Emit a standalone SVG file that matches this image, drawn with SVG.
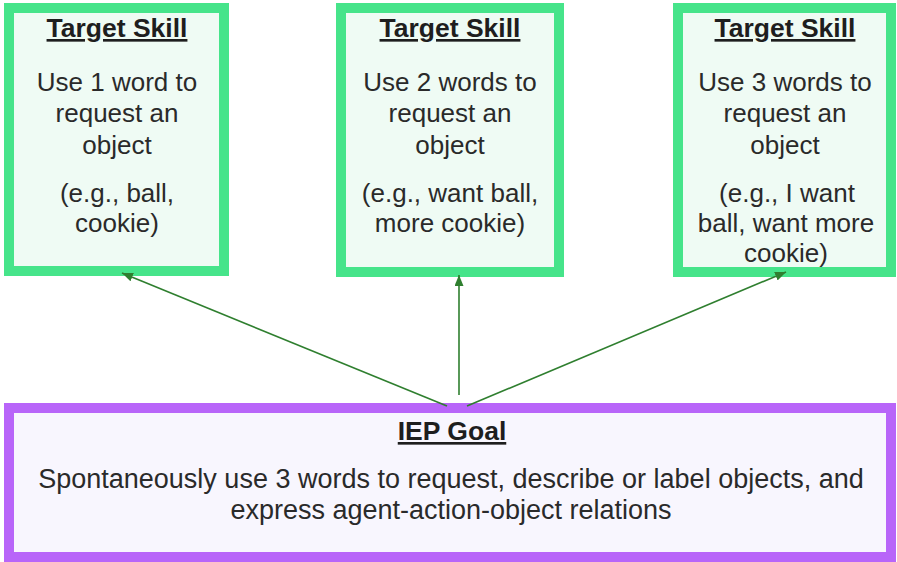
<svg xmlns="http://www.w3.org/2000/svg" width="897" height="562" viewBox="0 0 897 562">
  <style>
    .skill { fill: #effbf4; stroke: #46e48a; stroke-width: 10; }
    .goal { fill: #f8f6fe; stroke: #b865f9; stroke-width: 10; }
    .title { font-family: "Liberation Sans", Arial, sans-serif; font-weight: bold; font-size: 26.5px; fill: #1e1e1e; text-anchor: middle; text-decoration: underline; }
    .body { font-family: "Liberation Sans", Arial, sans-serif; font-size: 26px; fill: #2a2a2a; text-anchor: middle; }
    .wide { font-size: 27px; }
    .link { stroke: #2f7f2f; stroke-width: 1.6; fill: none; marker-end: url(#tip); }
  </style>
  <defs>
    <marker id="tip" markerUnits="userSpaceOnUse" markerWidth="12" markerHeight="10" refX="11" refY="4.5" orient="auto">
      <path d="M0,0 L11,4.5 L0,9 z" fill="#2f7f2f"/>
    </marker>
  </defs>
  <rect width="897" height="562" fill="#ffffff"/>

  <g id="skill-1">
    <rect class="skill" x="9" y="8" width="215" height="263"/>
    <text class="title" x="117" y="37">Target Skill</text>
    <text class="body" x="117" y="91">Use 1 word to</text>
    <text class="body" x="117" y="122">request an</text>
    <text class="body" x="117" y="154">object</text>
    <text class="body" x="117" y="202">(e.g., ball,</text>
    <text class="body" x="117" y="232">cookie)</text>
  </g>

  <g id="skill-2">
    <rect class="skill" x="341" y="8" width="218" height="264"/>
    <text class="title" x="450" y="37">Target Skill</text>
    <text class="body" x="450" y="91">Use 2 words to</text>
    <text class="body" x="450" y="122">request an</text>
    <text class="body" x="450" y="154">object</text>
    <text class="body" x="450" y="202">(e.g., want ball,</text>
    <text class="body" x="450" y="232">more cookie)</text>
  </g>

  <g id="skill-3">
    <rect class="skill" x="678" y="8" width="213" height="264"/>
    <text class="title" x="785" y="37">Target Skill</text>
    <text class="body" x="785" y="91">Use 3 words to</text>
    <text class="body" x="785" y="122">request an</text>
    <text class="body" x="785" y="154">object</text>
    <text class="body" x="787" y="202">(e.g., I want</text>
    <text class="body" x="786" y="232">ball, want more</text>
    <text class="body" x="786" y="262">cookie)</text>
  </g>

  <g id="iep-goal">
    <rect class="goal" x="9" y="408" width="882" height="149"/>
    <text class="title" x="452" y="440" font-size="27.5">IEP Goal</text>
    <text class="body wide" x="451" y="488">Spontaneously use 3 words to request, describe or label objects, and</text>
    <text class="body wide" x="451" y="519">express agent-action-object relations</text>
  </g>

  <g id="connectors">
    <line class="link" x1="447" y1="406" x2="122" y2="273"/>
    <line class="link" x1="459" y1="395" x2="459" y2="275"/>
    <line class="link" x1="467" y1="406" x2="786" y2="272"/>
  </g>
</svg>
